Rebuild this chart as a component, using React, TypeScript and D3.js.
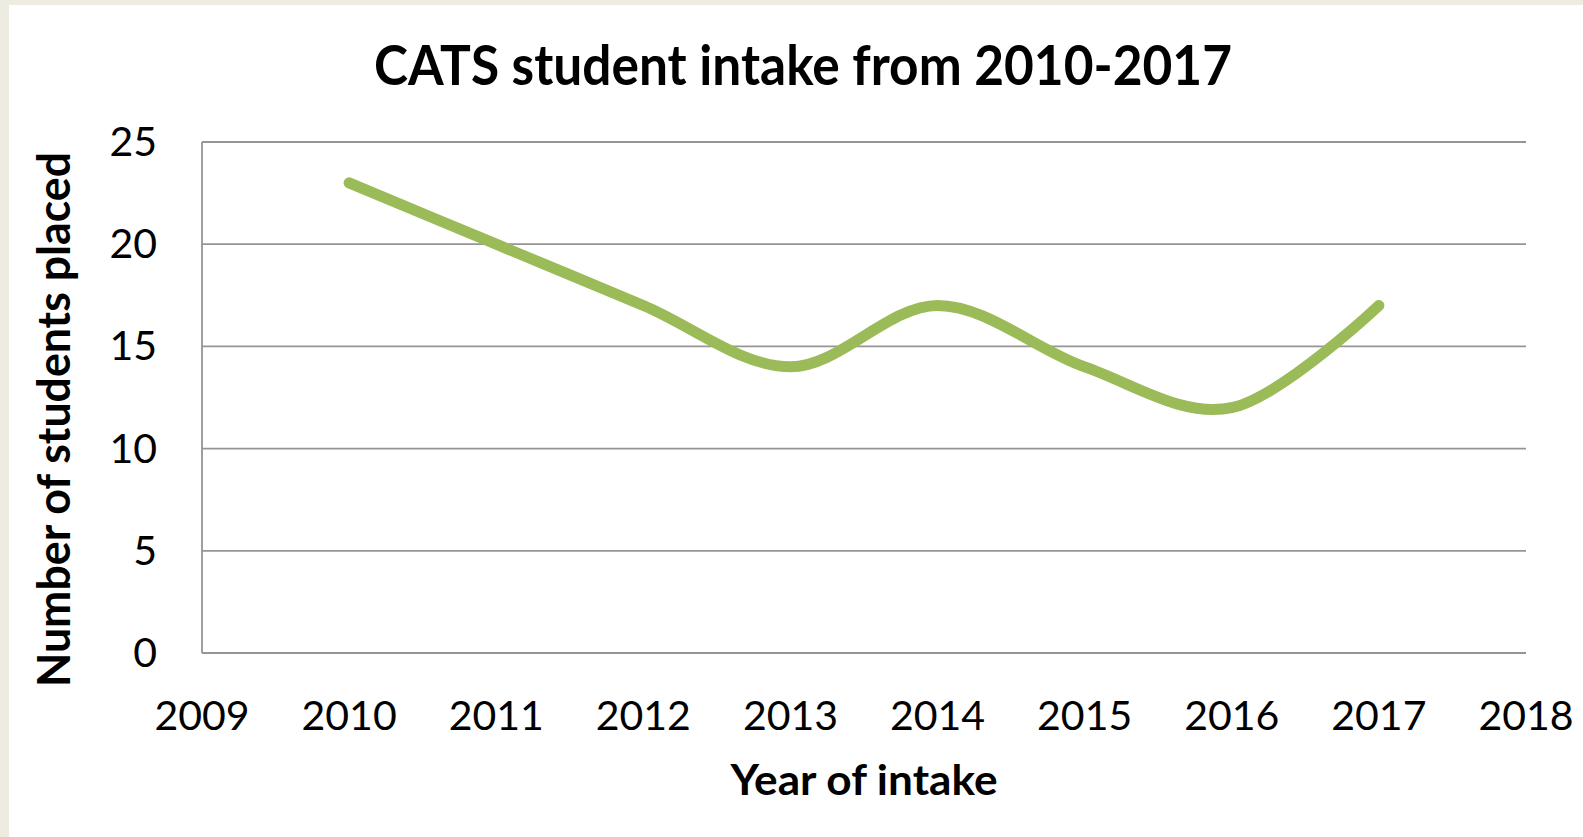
import React from "react";
import * as d3 from "d3";

const years = [2010, 2011, 2012, 2013, 2014, 2015, 2016, 2017];
const students = [23, 20, 17, 14, 17, 14, 12, 17];
const xTicks = [2009, 2010, 2011, 2012, 2013, 2014, 2015, 2016, 2017, 2018];
const yTicks = [0, 5, 10, 15, 20, 25];
const titleText = "CATS student intake from 2010-2017";
const xLabel = "Year of intake";
const yLabel = "Number of students placed";

const W = 1583;
const H = 837;
const plot = { left: 202, right: 1526, top: 142, bottom: 653 };

export default function App() {
  const x = d3.scaleLinear().domain([2009, 2018]).range([plot.left, plot.right]);
  const y = d3.scaleLinear().domain([0, 25]).range([plot.bottom, plot.top]);
  const line = d3
    .line<number>()
    .x((_, i) => x(years[i]))
    .y((d) => y(d))
    .curve(d3.curveCatmullRom.alpha(0));
  const font = "Lato, 'Open Sans', sans-serif";

  return (
    <svg
      width={W}
      height={H}
      style={{ position: "fixed", left: 0, top: 0, display: "block" }}
    >
      <rect x={0} y={0} width={W} height={H} fill="#EEEBE0" />
      <rect x={9} y={5} width={W - 9} height={H - 5} fill="#ffffff" />
      <text
        x={803}
        y={85}
        textAnchor="middle"
        fontFamily={font}
        fontWeight={700}
        fontSize={56}
        textLength={858}
        lengthAdjust="spacingAndGlyphs"
        fill="#000"
      >
        {titleText}
      </text>
      {yTicks.map((t) => (
        <line
          key={"g" + t}
          x1={plot.left}
          x2={plot.right}
          y1={y(t)}
          y2={y(t)}
          stroke="#959595"
          strokeWidth={1.8}
        />
      ))}
      <line
        x1={plot.left}
        x2={plot.left}
        y1={plot.top}
        y2={plot.bottom}
        stroke="#959595"
        strokeWidth={1.8}
      />
      {yTicks.map((t) => (
        <text
          key={"y" + t}
          x={157}
          y={y(t) + 14}
          textAnchor="end"
          fontFamily={font}
          fontSize={41}
          fill="#000"
        >
          {t}
        </text>
      ))}
      {xTicks.map((t) => (
        <text
          key={"x" + t}
          x={x(t)}
          y={730}
          textAnchor="middle"
          fontFamily={font}
          fontSize={41}
          fill="#000"
        >
          {t}
        </text>
      ))}
      <path
        d={line(students) || ""}
        fill="none"
        stroke="#9BBB59"
        strokeWidth={11}
        strokeLinecap="round"
        strokeLinejoin="round"
      />
      <text
        x={864}
        y={795}
        textAnchor="middle"
        fontFamily={font}
        fontWeight={700}
        fontSize={42}
        textLength={267}
        lengthAdjust="spacingAndGlyphs"
        fill="#000"
      >
        {xLabel}
      </text>
      <text
        transform={`translate(70,419.5) rotate(-90)`}
        textAnchor="middle"
        fontFamily={font}
        fontWeight={700}
        fontSize={46}
        textLength={535}
        lengthAdjust="spacingAndGlyphs"
        fill="#000"
      >
        {yLabel}
      </text>
    </svg>
  );
}
